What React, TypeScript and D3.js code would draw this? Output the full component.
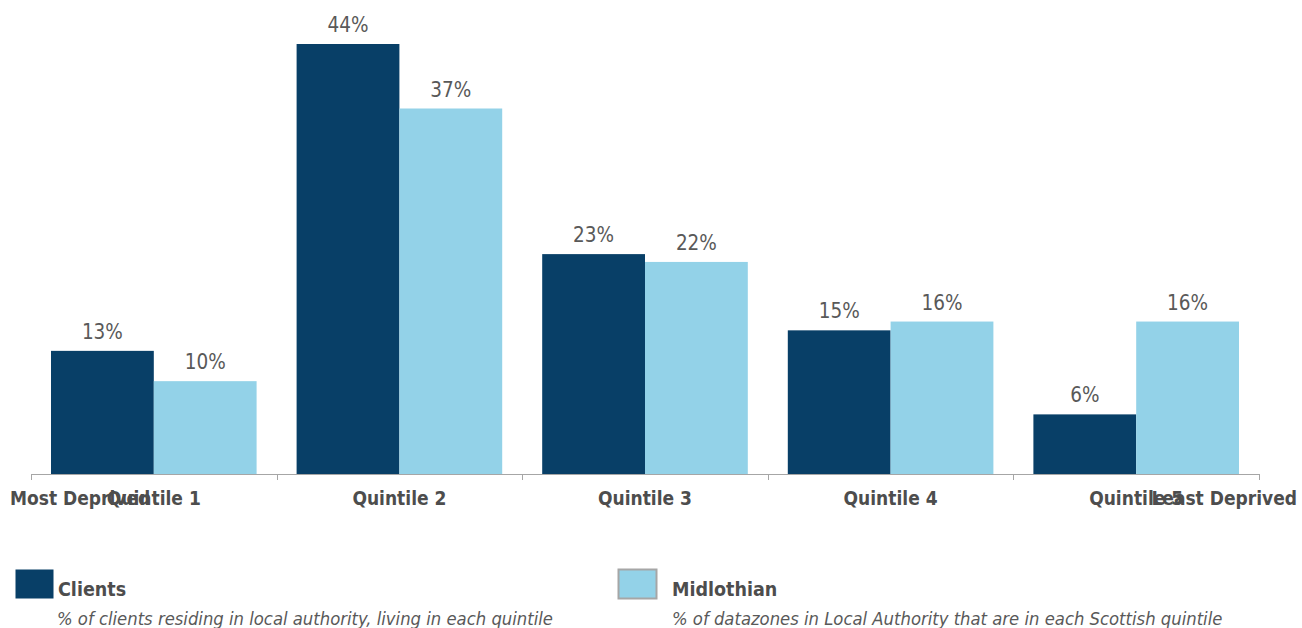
import React from "react";
import * as d3 from "d3";

const categories = ["Quintile 1", "Quintile 2", "Quintile 3", "Quintile 4", "Quintile 5"];
const seriesNames = ["Clients", "Midlothian"];
const clientsValues = [12.6, 44.0, 22.5, 14.7, 6.1];
const midlothianValues = [9.5, 37.4, 21.7, 15.6, 15.6];
const seriesDescriptions = [
  "% of clients residing in local authority, living in each quintile",
  "% of datazones in Local Authority that are in each Scottish quintile",
];
const endLabels = ["Most Deprived", "Least Deprived"];

const W = 1302;
const H = 628;
const COLORS = ["#083F67", "#93D2E8"];
const FONT = "'DejaVu Sans Condensed', 'DejaVu Sans', sans-serif";

export default function App() {
  const x = d3.scaleBand<string>().domain(categories).range([31, 1259]).paddingInner(0).paddingOuter(0);
  const bw = x.bandwidth();
  const x1 = d3.scaleBand<string>().domain(seriesNames).range([20, bw - 20]).padding(0);
  const y = d3.scaleLinear().domain([0, 44]).range([474, 44]);
  const seriesValues = [clientsValues, midlothianValues];
  const ticks = [...categories.map((c) => x(c)!), 1259];

  return (
    <svg width={W} height={H} style={{ position: "absolute", left: 0, top: 0, background: "#fff" }} fontFamily={FONT}>
      {seriesNames.map((s, si) =>
        categories.map((c, ci) => {
          const v = seriesValues[si][ci];
          const bx = x(c)! + x1(s)!;
          return (
            <g key={s + c}>
              <rect x={bx} y={y(v)} width={x1.bandwidth()} height={y(0) - y(v)} fill={COLORS[si]} />
              <text x={bx + x1.bandwidth() / 2} y={y(v) - 12} textAnchor="middle" fontSize={20.5} fill="#595959">
                {Math.round(v)}%
              </text>
            </g>
          );
        })
      )}
      <line x1={31} x2={1259} y1={474.5} y2={474.5} stroke="#A6A6A6" strokeWidth={1} />
      {ticks.map((t, i) => (
        <line key={i} x1={Math.round(t) + 0.5} x2={Math.round(t) + 0.5} y1={474} y2={480} stroke="#A6A6A6" />
      ))}
      {categories.map((c) => (
        <text key={c} x={x(c)! + bw / 2} y={505} textAnchor="middle" fontSize={19} fontWeight="bold" fill="#4D4D4D">
          {c}
        </text>
      ))}
      <text x={10} y={505} fontSize={19} fontWeight="bold" fill="#4D4D4D">{endLabels[0]}</text>
      <text x={1297} y={505} textAnchor="end" fontSize={19} fontWeight="bold" fill="#4D4D4D">{endLabels[1]}</text>
      {seriesNames.map((s, i) => {
        const lx = i === 0 ? 15 : 618;
        return (
          <g key={s}>
            <rect x={lx + 0.5} y={569.5} width={38} height={29} fill={COLORS[i]} stroke={i === 1 ? "#A6A6A6" : "none"} strokeWidth={2} />
            <text x={i === 0 ? 58 : 672} y={596} fontSize={19.5} fontWeight="bold" fill="#4D4D4D">{s}</text>
            <text x={i === 0 ? 57 : 672} y={625} fontSize={18.3} fontStyle="italic" fill="#595959">{seriesDescriptions[i]}</text>
          </g>
        );
      })}
    </svg>
  );
}
